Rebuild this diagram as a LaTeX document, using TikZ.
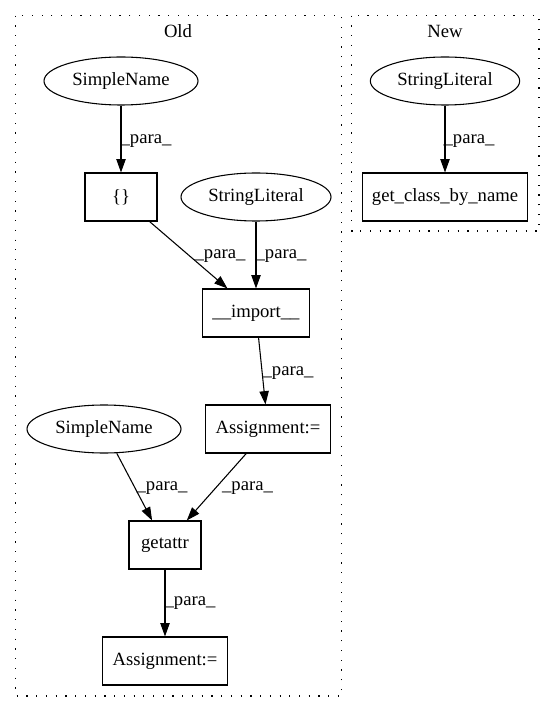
\documentclass[tikz,border=0pt]{standalone}
\usepackage{fontspec}
\setmainfont{Liberation Serif}
\usetikzlibrary{shapes.geometric,arrows.meta}
\begin{document}
\begin{tikzpicture}[x=0.75pt,y=-0.75pt,
  font=\fontsize{14pt}{16pt}\selectfont,
  ell/.style={draw,ellipse,line width=0.8pt,inner sep=0pt,minimum height=36pt},
  box/.style={draw,rectangle,line width=0.8pt,inner sep=0pt,minimum height=36pt},
  arr/.style={draw,line width=0.8pt,-{Triangle[length=10pt,width=7pt]}},
  lbl/.style={inner sep=0pt},
  cluster/.style={line width=0.9pt,dash pattern=on 0.9pt off 6.4pt}]
\useasboundingbox (0,0) rectangle (555,712);
% clusters
\draw[cluster] (15.7,15.7) rectangle (341.7,696);
\draw[cluster] (351.7,15.7) rectangle (539,231);
\node[lbl] (oldt) at (178,31) {Old};
\node[lbl] (newt) at (445,31) {New};
% Old nodes
\node[ell,minimum width=115.5pt] (sn1) at (121,81) {SimpleName};
\node[box,minimum width=54pt] (br) at (121,197) {\{\}};
\node[ell,minimum width=112.5pt] (sl1) at (256,197) {StringLiteral};
\node[box,minimum width=80pt] (imp) at (256,313) {\_\_import\_\_};
\node[box,minimum width=94pt] (as1) at (268,429) {Assignment:=};
\node[ell,minimum width=115.5pt] (sn2) at (104,429) {SimpleName};
\node[box,minimum width=54pt] (ga) at (165,545) {getattr};
\node[box,minimum width=94pt] (as2) at (165,661) {Assignment:=};
% New nodes
\node[ell,minimum width=112pt] (sl2) at (445,81) {StringLiteral};
\node[box,minimum width=124pt] (gc) at (445,197) {get\_class\_by\_name};
% edges
\draw[arr] (sn1) -- (br);
\draw[arr] (br) -- (imp);
\draw[arr] (sl1) -- (imp);
\draw[arr] (imp) -- (as1);
\draw[arr] (sn2) -- (ga);
\draw[arr] (as1) -- (ga);
\draw[arr] (ga) -- (as2);
\draw[arr] (sl2) -- (gc);
% edge labels
\node[lbl] (l1) at (146,141) {\_para\_};
\node[lbl] (l2) at (220,256) {\_para\_};
\node[lbl] (l3) at (281,256) {\_para\_};
\node[lbl] (l4) at (288,373) {\_para\_};
\node[lbl] (l5) at (162,488) {\_para\_};
\node[lbl] (l6) at (247.5,488) {\_para\_};
\node[lbl] (l7) at (190,603) {\_para\_};
\node[lbl] (l8) at (469,141) {\_para\_};
\end{tikzpicture}
\end{document}
